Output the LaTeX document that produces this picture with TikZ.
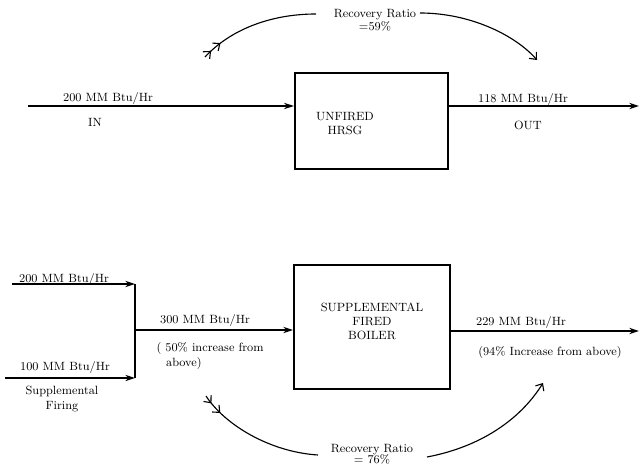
\documentclass[tikz,border=0pt]{standalone}
\usetikzlibrary{arrows.meta,decorations.markings}
\begin{document}
\begin{tikzpicture}[x=0.025cm,y=-0.025cm,line width=.8pt,
  lbl/.style={font=\fontsize{8.5}{10}\selectfont,inner sep=0pt},
  blk/.style={draw,line width=1.4pt,inner sep=0pt},
  flow/.style={-{Stealth[length=7pt,width=4.5pt]}},
  barb/.style={-{Straight Barb[length=4pt,width=7pt]}},
  twobarb/.style={decoration={markings,
    mark=at position .07 with {\arrow{Straight Barb[length=4pt,width=7pt]}},
    mark=at position .17 with {\arrow{Straight Barb[length=4pt,width=7pt]}}},
    postaction={decorate}}]
 \useasboundingbox (0,0) rectangle (640,467);
 % unfired case
 \node[blk,minimum width=3.83cm,minimum height=2.4cm] (hrsg) at (371.5,121) {};
 \node[lbl,align=center] (hrsgtxt) at (345,124) {UNFIRED\\HRSG};
 \coordinate (in1) at (28,106);
 \coordinate (out1) at (639,106);
 \draw[flow] (in1) -- (in1 -| hrsg.west);
 \draw[flow,line width=1pt] (out1 -| hrsg.east) -- (out1);
 \node[lbl] (q1) at (108,99) {200 MM Btu/Hr};
 \node[lbl] (inlbl) at (95,122) {IN};
 \node[lbl] (q2) at (523,100) {118 MM Btu/Hr};
 \node[lbl] (outlbl) at (528,125) {OUT};
 \node[lbl,align=center] (rr1) at (375,20) {Recovery Ratio\\[-1pt]=59\%};
 \coordinate (a1) at (205,57);
 \coordinate (a2) at (316,14);
 \coordinate (a3) at (420,13);
 \coordinate (a4) at (537,60);
 \draw[twobarb] (a1) .. controls (230,30) and (270,14) .. (a2);
 \draw[barb] (a3) .. controls (470,13) and (515,35) .. (a4);
 % supplemental firing case
 \node[blk,minimum width=3.9cm,minimum height=3.1cm] (boiler) at (372,327) {};
 \node[lbl,align=center] (boilertxt) at (372,321) {SUPPLEMENTAL\\FIRED\\BOILER};
 \coordinate (f1) at (12,284);
 \coordinate (f2) at (5,378);
 \coordinate (j1) at (135,284);
 \coordinate (j2) at (135,378);
 \coordinate (jm) at (135,330);
 \coordinate (out2) at (639,331);
 \draw[flow] (f1) -- (j1);
 \draw[flow] (f2) -- (j2);
 \draw (j1) -- (j2);
 \draw[flow] (jm) -- (jm -| boiler.west);
 \draw[flow,line width=1pt] (out2 -| boiler.east) -- (out2);
 \node[lbl] (q3) at (64,280) {200 MM Btu/Hr};
 \node[lbl] (q4) at (65,368) {100 MM Btu/Hr};
 \node[lbl,align=center] (supp) at (62,399) {Supplemental\\Firing};
 \node[lbl] (q5) at (205,321) {300 MM Btu/Hr};
 \node[lbl,align=left,anchor=west] (inc1) at (156,356) {( 50\% increase from\\\hspace{.8em}above)};
 \node[lbl] (q6) at (521,323) {229 MM Btu/Hr};
 \node[lbl] (inc2) at (550,353) {(94\% Increase from above)};
 \node[lbl,align=center] (rr2) at (372,454) {Recovery Ratio\\[-2pt]= 76\%};
 \coordinate (b1) at (206,396);
 \coordinate (b2) at (318,455);
 \coordinate (b3) at (427,457);
 \coordinate (b4) at (543,383);
 \draw[twobarb] (b1) .. controls (225,425) and (270,452) .. (b2);
 \draw[barb] (b3) .. controls (480,447) and (520,420) .. (b4);
\end{tikzpicture}
\end{document}
